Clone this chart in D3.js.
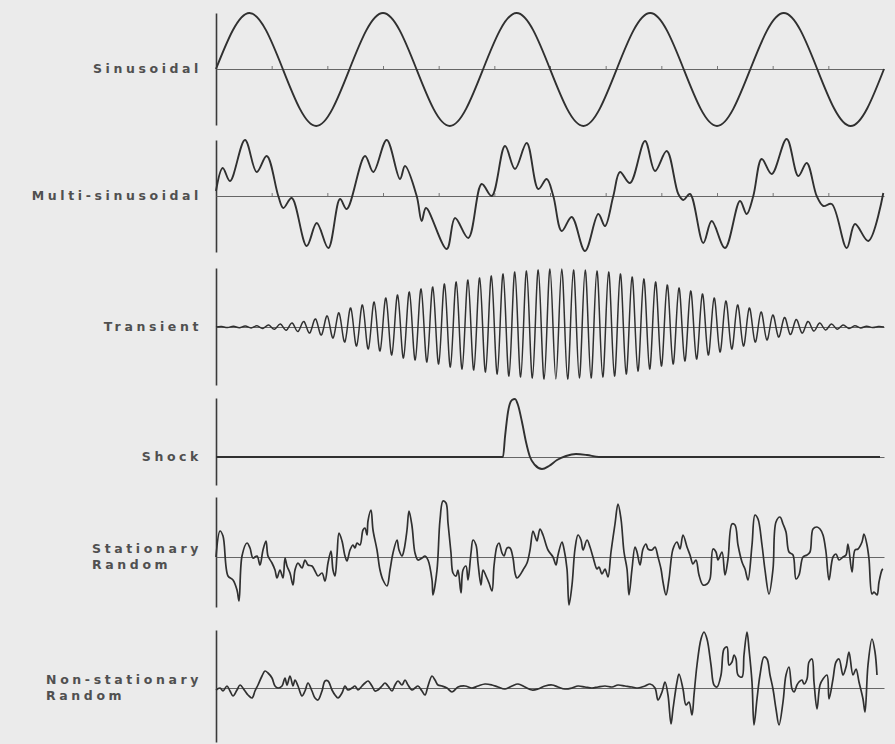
<!DOCTYPE html>
<html>
<head>
<meta charset="utf-8">
<script src="https://cdn.jsdelivr.net/npm/d3@7"></script>
<style>
    html, body { margin: 0; padding: 0; background: #ebebeb; }
    svg { display: block; }
    .label { font-family: "DejaVu Sans", sans-serif; font-weight: bold; font-size: 12.5px; letter-spacing: 3.6px; fill: #505050; }
    .trace { fill: none; stroke: #303030; stroke-linejoin: round; }
</style>
</head>
<body>
<div id="chart"></div>
<script>
// record length in time units, split into 12 divisions on the time axis
const timeSpan = 668;
const divisions = 12;

const labels = [
    ["Sinusoidal"],
    ["Multi-sinusoidal"],
    ["Transient"],
    ["Shock"],
    ["Stationary", "Random"],
    ["Non-stationary", "Random"]
];

// sinusoidal: value at every quarter period
const sineStep = 33.4;
const sineValues = [0, 56, 0, -57, 0, 56, 0, -57, 0, 56, 0, -57, 0, 56, 0, -57, 0, 56, 0, -57, 0];

// multi-sinusoidal: [time, value] at turning points and crossings
const multiSine = [
    [0, 5], [6.7, 28], [14, 15], [29, 56], [40.7, 24], [50.7, 40], [62.3, 0], [67.3, -12], [75.7, -2], [90.7, -50],
    [100.7, -27], [112.3, -52], [124, -3], [130.7, -13], [149, 40], [157.3, 24], [170.7, 56], [184, 17], [189, 30], [200.7, 0],
    [205.7, -25], [210, -12], [230.7, -53], [239, -22], [252.3, -42], [265.7, 12], [275.7, 0], [289, 50], [299, 27], [310.7, 53],
    [322.3, 7], [330.7, 17], [337.3, 0], [345.7, -35], [355.7, -21], [369, -55], [382.3, -18], [389, -30], [397.3, 0], [404, 24],
    [414, 13], [429, 55], [439, 25], [450.7, 45], [462.3, 2], [467.3, -4], [474, 2], [487.3, -47], [495.7, -25], [509, -52],
    [524, -5], [530.7, -18], [537.3, 0], [545.7, 37], [555.7, 22], [570.7, 57], [582.3, 20], [590.7, 33], [600.7, 0], [607.3, -10],
    [615.7, -8], [630.7, -52], [639, -28], [652.3, -45], [667.3, 3]
];

// transient: successive half-cycle peaks, evenly spaced over the record
const transientPeaks = [
    0, 0.5, -0.5, 0.8, -0.7, 1, -0.9, 1.2, -1.4, 2,
    -2.3, 3, -3.2, 4, -4.5, 5.5, -6, 8, -8, 11,
    -11, 14, -15, 19, -19, 22, -22, 25, -24, 29,
    -28, 32, -31, 35, -33, 38, -35, 40, -37, 43,
    -40, 45, -42, 47, -43, 49, -45, 51, -47, 53,
    -49, 55, -50, 56, -51, 57, -52, 58, -52, 58,
    -52, 57, -51, 57, -51, 56, -50, 55, -49, 53,
    -47, 50, -44, 48, -42, 45, -39, 42, -37, 39,
    -34, 36, -32, 33, -28, 29, -25, 26, -22, 22,
    -19, 19, -15, 15, -13, 12, -10, 9.5, -7.5, 7.5,
    -6, 5.5, -4, 4, -3, 3, -2.2, 2, -1.4, 1.2,
    -0.9, 0.8, -0.5, 0.4, 0
];

// shock pulse
const shock = [
    [0, 0], [287, 0], [289, 20], [292, 45], [296, 57], [299, 58], [302, 52], [306, 35], [310, 15], [314, 0],
    [319, -8], [326, -12], [333, -9], [341, -3], [350, 1], [360, 3], [371, 2], [383, 0], [664, 0]
];

// stationary random
const stationary = [
    [0, 0], [4, 26], [7, 21], [12, -19], [17, -23], [21, -33], [23, -44], [26, 1], [31, 14], [34, 9],
    [37, -1], [41, 1], [44, -8], [47, 7], [50, 16], [52, 1], [56, -6], [59, -13], [61, -21], [64, -13],
    [67, -21], [69, -1], [71, -9], [74, -16], [77, -28], [79, -13], [82, -6], [86, -11], [89, -3], [92, -8],
    [96, -9], [99, -14], [102, -19], [106, -16], [109, -24], [112, -6], [115, 6], [117, -13], [119, -19], [121, 2],
    [123, 24], [126, 16], [129, 1], [131, -4], [134, 7], [137, 12], [139, 9], [141, 14], [144, 12], [147, 27],
    [149, 29], [151, 22], [152, 36], [155, 47], [157, 27], [161, 7], [164, -13], [167, -23], [171, -29], [174, -13],
    [177, 4], [181, 17], [183, 7], [186, 1], [188, 7], [191, 27], [193, 46], [196, 31], [199, 4], [202, -3],
    [206, -1], [209, 1], [212, -3], [216, -23], [217, -38], [221, -13], [224, 37], [227, 56], [230, 54], [232, 34],
    [235, 4], [237, -16], [240, -19], [242, -13], [245, -36], [247, -13], [250, -9], [252, -23], [255, 4], [257, 17],
    [260, 12], [262, -6], [265, -28], [267, -13], [270, -19], [273, -26], [276, -34], [278, -9], [281, 11], [283, 14],
    [286, 4], [288, 1], [291, 9], [294, 9], [297, -1], [299, -16], [301, -21], [304, -18], [307, -13], [311, -6],
    [314, 7], [317, 26], [319, 21], [321, 16], [324, 28], [327, 22], [332, 7], [337, 0], [340, -8], [342, 2],
    [346, 15], [348, 8], [351, -12], [353, -48], [356, -28], [359, 8], [362, 22], [365, 17], [367, 7], [371, 17],
    [374, 10], [377, 0], [381, -12], [383, -10], [386, -17], [389, -12], [392, -20], [395, 5], [399, 33], [402, 53],
    [405, 38], [408, 5], [411, -12], [413, -38], [416, -12], [419, 10], [421, 5], [424, -8], [427, 8], [430, 13],
    [432, 8], [436, 7], [439, 10], [442, 0], [445, -12], [447, -25], [450, -38], [453, -22], [457, 8], [461, 15],
    [464, 8], [467, 22], [471, 10], [474, 2], [477, -7], [480, -3], [483, -18], [487, -28], [491, -27], [494, -22],
    [497, 8], [500, 5], [502, -3], [506, 5], [509, -18], [512, -2], [516, 33], [519, 32], [522, 12], [526, -5],
    [529, -12], [532, -23], [536, 12], [539, 42], [542, 38], [546, 12], [549, -13], [553, -37], [557, -12], [560, 35],
    [564, 40], [567, 33], [570, 25], [573, 5], [577, 2], [580, -22], [583, -18], [587, 0], [591, 2], [594, 5],
    [597, 28], [601, 30], [604, 28], [607, 22], [610, 5], [613, -23], [617, 0], [620, 3], [623, -3], [627, 0],
    [630, 2], [632, 13], [636, -15], [639, 7], [642, 8], [646, 15], [648, 23], [651, 12], [653, -2], [656, -37],
    [658, -35], [661, -38], [663, -25], [666, -13], [667, -12]
];

// non-stationary random
const nonStationary = [
    [0, -2], [4, 0], [7, -3], [11, 2], [14, -3], [17, -8], [21, -2], [24, 3], [29, -3], [32, -7],
    [36, -10], [39, -3], [42, 3], [46, 12], [49, 17], [52, 15], [56, 10], [59, 2], [62, 0], [66, 2],
    [69, 10], [71, 3], [74, 12], [77, 2], [79, 8], [82, 2], [86, -8], [89, -3], [92, 5], [96, -3],
    [99, -10], [102, -12], [106, -3], [109, 7], [112, 7], [116, -2], [119, -7], [122, -10], [126, -5], [129, 2],
    [132, -2], [136, 0], [139, 2], [142, -2], [146, 2], [149, 5], [152, 7], [156, 2], [159, -3], [162, -2],
    [166, 2], [169, 5], [172, 2], [176, -3], [179, 3], [182, 7], [186, 3], [189, 8], [192, 3], [196, -2],
    [199, 0], [202, 2], [206, -3], [209, -7], [212, 2], [216, 12], [219, 8], [222, 3], [226, 2], [231, 0],
    [236, -4], [242, 1], [249, 2], [256, 0], [262, 2], [269, 4], [276, 3], [282, 1], [289, -1], [296, 2],
    [302, 4], [309, 1], [316, -2], [322, -1], [329, 2], [336, 3], [342, 1], [349, -1], [356, 0], [362, 2],
    [369, 1], [376, 0], [382, 1], [389, 2], [396, 1], [402, 3], [409, 2], [416, 1], [422, 0], [429, 2],
    [434, 4], [439, 0], [442, -12], [446, -4], [449, 6], [452, -7], [455, -36], [457, -21], [461, 6], [463, 14],
    [467, -1], [470, -17], [473, -14], [476, -27], [478, -7], [481, 23], [485, 49], [488, 56], [491, 49], [495, 23],
    [498, 3], [501, 1], [505, 13], [508, 39], [511, 41], [513, 23], [516, 26], [518, 33], [520, 29], [522, 13],
    [526, 11], [528, 33], [531, 56], [533, 39], [536, 6], [538, -37], [541, -11], [544, 13], [548, 31], [551, 29],
    [554, 13], [557, -1], [560, -21], [563, -37], [567, -14], [570, 13], [573, 21], [576, -1], [578, -4], [581, 3],
    [583, 6], [586, 8], [588, 4], [591, 9], [593, 26], [596, 29], [598, 6], [601, -21], [604, 3], [607, 9],
    [611, 13], [613, -11], [617, 9], [620, 26], [623, 29], [627, 13], [630, 21], [633, 36], [637, 13], [640, 19],
    [643, 6], [647, -11], [649, -24], [652, 23], [656, 49], [659, 36], [661, 13]
];

// chart size
const width = 895;
const height = 744;
const margin = {left: 216, right: 11};

const x = d3.scaleLinear().domain([0, timeSpan]).range([margin.left, width - margin.right]);
const divisionTicks = d3.range(1, divisions).map(function(i) { return i * timeSpan / divisions; });

// panel layout: vertical extent of each panel and the amplitude it covers
const panels = [
    {top: 13,  bottom: 125, domain: [-56, 56], ticks: true,  curve: d3.curveNatural, width: 1.9,
     points: sineValues.map(function(v, i) { return [i * sineStep, v]; })},
    {top: 140, bottom: 252, domain: [-56, 56], ticks: true,  curve: d3.curveCatmullRom.alpha(0.5), width: 1.9,
     points: multiSine},
    {top: 268, bottom: 385, domain: [-58, 59], ticks: false, curve: d3.curveNatural, width: 1.5,
     points: transientPeaks.map(function(v, i) { return [i * timeSpan / (transientPeaks.length - 1), v]; })},
    {top: 398, bottom: 485, domain: [-28, 59], ticks: false, curve: d3.curveMonotoneX, width: 1.9,
     points: shock},
    {top: 497, bottom: 607, domain: [-50, 60], ticks: false, curve: d3.curveCatmullRom.alpha(0.5), width: 1.7,
     points: stationary},
    {top: 630, bottom: 742, domain: [-54, 58], ticks: false, curve: d3.curveCatmullRom.alpha(0.5), width: 1.7,
     points: nonStationary}
];

const svg = d3.select("#chart").append("svg")
    .attr("width", width)
    .attr("height", height);

svg.append("rect")
    .attr("width", width)
    .attr("height", height)
    .attr("fill", "#ebebeb");

panels.forEach(function(p, i) {
    const y = d3.scaleLinear().domain(p.domain).range([p.bottom, p.top]);
    const g = svg.append("g").attr("class", "panel");

    // vertical axis line
    const yAxis = g.append("g")
        .attr("transform", "translate(" + margin.left + ",0)")
        .call(d3.axisLeft(y).tickValues([]).tickSizeOuter(0));
    yAxis.select(".domain").attr("stroke", "#3a3a3a").attr("stroke-width", 1.6);

    // zero line with small division marks
    const xAxis = g.append("g")
        .attr("transform", "translate(0," + y(0) + ")")
        .call(d3.axisBottom(x)
            .tickValues(p.ticks ? divisionTicks : [])
            .tickSizeInner(-3)
            .tickSizeOuter(0)
            .tickFormat(""));
    xAxis.select(".domain").attr("stroke", "#666").attr("stroke-width", 1);
    xAxis.selectAll(".tick line").attr("stroke", "#777");

    // signal trace
    g.append("path")
        .datum(p.points)
        .attr("class", "trace")
        .attr("stroke-width", p.width)
        .attr("d", d3.line()
            .x(function(d) { return x(d[0]); })
            .y(function(d) { return y(d[1]); })
            .curve(p.curve));

    // label, lines left-aligned, block right-aligned against the axis
    const lines = labels[i];
    const text = g.append("text").attr("class", "label");
    const lineGap = 16;
    const firstY = y(0) + 4 - (lines.length - 1) * lineGap / 2;
    lines.forEach(function(line, j) {
        text.append("tspan")
            .attr("x", 0)
            .attr("y", firstY + j * lineGap)
            .text(line);
    });
    const w = text.node().getBBox().width;
    text.attr("transform", "translate(" + (202 - w) + ",0)");
});
</script>
</body>
</html>
